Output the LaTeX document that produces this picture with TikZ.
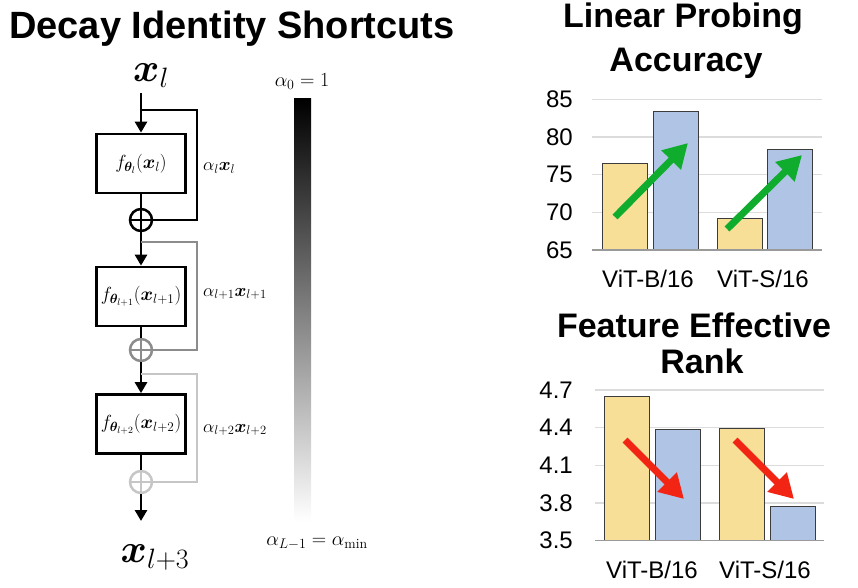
\RequirePackage{fix-cm}
\documentclass[tikz,border=0pt]{standalone}
\usepackage{amsmath}
\usepackage{bm}
\usepackage{fontspec}
\setsansfont{Liberation Sans}
\usetikzlibrary{arrows.meta}
\definecolor{gone}{HTML}{8C8C8C}
\definecolor{gtwo}{HTML}{C6C6C6}
\definecolor{gridc}{HTML}{DCDCDC}
\definecolor{axisc}{HTML}{9A9A9A}
\definecolor{barline}{HTML}{3C3C3C}
\definecolor{ybarc}{HTML}{F8DF98}
\definecolor{bbarc}{HTML}{B0C5E6}
\definecolor{greenc}{HTML}{10AC2E}
\definecolor{redc}{HTML}{F22514}
\tikzset{
 ln/.style={line width=2.7pt},
 ar/.style={line width=2.7pt, -{Triangle[length=11pt,width=12pt]}},
 blk/.style={draw, line width=2.7pt, minimum width=89pt, minimum height=59pt, inner sep=0pt, font=\fontsize{19}{21}\selectfont},
 summ/.style={circle, draw=#1, line width=2.5pt, minimum size=22pt, inner sep=0pt},
 lab/.style={anchor=west, inner sep=0pt, font=\fontsize{18}{20}\selectfont},
 mlab/.style={anchor=base, inner sep=0pt, font=\fontsize{20}{22}\selectfont},
 bigx/.style={anchor=base, inner sep=0pt, font=\fontsize{40}{42}\selectfont},
 ttlA/.style={anchor=base, inner sep=0pt, font=\sffamily\bfseries\fontsize{38}{40}\selectfont},
 ttlB/.style={anchor=base, inner sep=0pt, font=\sffamily\bfseries\fontsize{34}{36}\selectfont},
 tickl/.style={anchor=east, inner sep=0pt, font=\sffamily\fontsize{24}{26}\selectfont},
 xlab/.style={anchor=center, inner sep=0pt, font=\sffamily\fontsize{24}{26}\selectfont},
 gridln/.style={draw=gridc, line width=1.2pt},
 axln/.style={draw=axisc, line width=1.5pt},
 ybar/.style={draw=barline, fill=ybarc, line width=0.9pt},
 bbar/.style={draw=barline, fill=bbarc, line width=0.9pt},
 garr/.style={draw=greenc, line width=7pt, -{Triangle[length=24pt,width=26pt]}},
 rarr/.style={draw=redc, line width=7pt, -{Triangle[length=24pt,width=26pt]}},
}
\begin{document}
\begin{tikzpicture}[x=1pt,y=-1pt]
\useasboundingbox (0,0) rectangle (858,588);
% ---------- left: decay identity shortcuts ----------
\node[ttlA] (title) at (232,39) {Decay Identity Shortcuts};
\node[bigx] (xl) at (151,82) {$\bm{x}_l$};
\node[blk] (b1) at (141,163.5) {$f_{\bm{\theta}_l}(\bm{x}_l)$};
\node[blk] (b2) at (141,296.5) {$f_{\bm{\theta}_{l+1}}(\bm{x}_{l+1})$};
\node[blk] (b3) at (141,424) {$f_{\bm{\theta}_{l+2}}(\bm{x}_{l+2})$};
\node[summ=black] (c1) at (141,220) {};
\node[summ=gone] (c2) at (141,350) {};
\node[summ=gtwo] (c3) at (141,482) {};
\draw[ln,black] (c1.north) -- (c1.south) (c1.west) -- (c1.east);
\draw[ln,gone] (c2.north) -- (c2.south) (c2.west) -- (c2.east);
\draw[ln,gtwo] (c3.north) -- (c3.south) (c3.west) -- (c3.east);
\node[bigx] (xout) at (155,562) {$\bm{x}_{l+3}$};
\coordinate (top) at (141,93);
\coordinate (bot) at (141,521);
\coordinate (s1) at (141,110);
\coordinate (s2) at (141,242);
\coordinate (s3) at (141,374);
% main path
\draw[ar] (top) -- (b1.north);
\draw[ln] (b1.south) -- (c1.north);
\draw[ar] (c1.south) -- (b2.north);
\draw[ln] (b2.south) -- (c2.north);
\draw[ar] (c2.south) -- (b3.north);
\draw[ln] (b3.south) -- (c3.north);
\draw[ar] (c3.south) -- (bot);
% skip connections
\draw[ln,black] (s1) -- ++(56,0) |- (c1.east);
\draw[ln,gone] (s2) -- ++(56,0) |- (c2.east);
\draw[ln,gtwo] (s3) -- ++(56,0) |- (c3.east);
\node[lab] (a1) at (203,168) {$\alpha_l\bm{x}_l$};
\node[lab] (a2) at (203,294) {$\alpha_{l+1}\bm{x}_{l+1}$};
\node[lab] (a3) at (203,430) {$\alpha_{l+2}\bm{x}_{l+2}$};
% gradient bar
\shade[top color=black, bottom color=white] (294,99) rectangle (311,521);
\node[mlab] (atop) at (302,87) {$\alpha_0 = 1$};
\node[mlab] (abot) at (317,545) {$\alpha_{L-1} = \alpha_{\min}$};
% ---------- right top: linear probing accuracy ----------
\node[ttlB] (t2a) at (683,28) {Linear Probing};
\node[ttlB] (t2b) at (686,72) {Accuracy};
\foreach \yy in {99.3,137,174.7,212.4} {\draw[gridln] (592,\yy) -- (822,\yy);}
\draw[ybar] (602,250) rectangle (647,163);
\draw[bbar] (653,250) rectangle (698,111);
\draw[ybar] (717,250) rectangle (762,218);
\draw[bbar] (767,250) rectangle (812,149);
\draw[axln] (592,250) -- (822,250);
\node[tickl] (k85) at (573,99.3) {85};
\node[tickl] (k80) at (573,137) {80};
\node[tickl] (k75) at (573,174.7) {75};
\node[tickl] (k70) at (573,212.4) {70};
\node[tickl] (k65) at (573,250) {65};
\node[xlab] (lb1) at (648,279) {ViT-B/16};
\node[xlab] (ls1) at (763,279) {ViT-S/16};
\coordinate (g1s) at (615,217);
\coordinate (g1e) at (688,143);
\coordinate (g2s) at (727,229);
\coordinate (g2e) at (802,155);
\draw[garr] (g1s) -- (g1e);
\draw[garr] (g2s) -- (g2e);
% ---------- right bottom: feature effective rank ----------
\node[ttlB] (t3a) at (694,337) {Feature Effective};
\node[ttlB] (t3b) at (702,373) {Rank};
\foreach \yy in {390,427.7,465.3,503} {\draw[gridln] (595,\yy) -- (824,\yy);}
\draw[ybar] (604,540.7) rectangle (649,396);
\draw[bbar] (655,540.7) rectangle (700,429);
\draw[ybar] (719,540.7) rectangle (764,428);
\draw[bbar] (770,540.7) rectangle (815,506);
\draw[axln] (595,540.7) -- (824,540.7);
\node[tickl] (r47) at (573,390) {4.7};
\node[tickl] (r44) at (573,427.7) {4.4};
\node[tickl] (r41) at (573,465.3) {4.1};
\node[tickl] (r38) at (573,503) {3.8};
\node[tickl] (r35) at (573,540.7) {3.5};
\node[xlab] (lb2) at (652,570) {ViT-B/16};
\node[xlab] (ls2) at (765,570) {ViT-S/16};
\coordinate (r1s) at (625,440);
\coordinate (r1e) at (684,499);
\coordinate (r2s) at (735,440);
\coordinate (r2e) at (794,499);
\draw[rarr] (r1s) -- (r1e);
\draw[rarr] (r2s) -- (r2e);
\end{tikzpicture}
\end{document}
